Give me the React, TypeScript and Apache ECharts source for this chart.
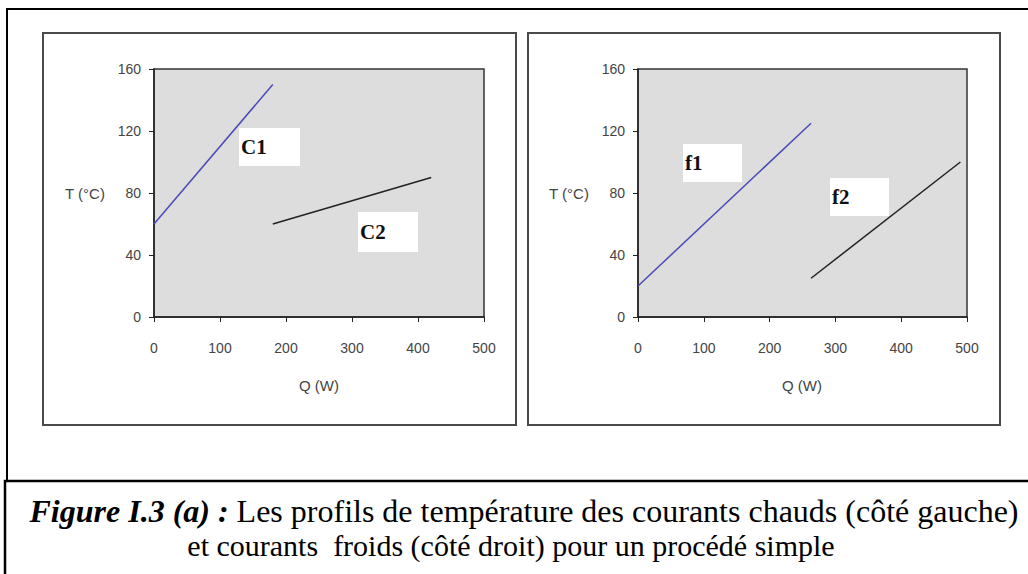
import React, { useEffect, useRef } from "react";
import * as echarts from "echarts";

// Hot streams (left chart)
const c1Q = [0, 180];
const c1T = [60, 150];
const c2Q = [180, 420];
const c2T = [60, 90];
// Cold streams (right chart)
const f1Q = [0, 263];
const f1T = [20, 125];
const f2Q = [263, 490];
const f2T = [25, 100];

const xTicks = [0, 100, 200, 300, 400, 500];
const yTicks = [0, 40, 80, 120, 160];
const xName = "Q (W)";
const yName = "T (°C)";
const caption1Bold = "Figure I.3 (a) :";
const caption1Rest = " Les profils de température des courants chauds (côté gauche)";
const caption2 = "et courants  froids (côté droit) pour un procédé simple";

const pairs = (q: number[], t: number[]) => q.map((v, i) => [v, t[i]]);

export default function App() {
  const ref = useRef<HTMLDivElement>(null);
  useEffect(() => {
    document.body.style.margin = "0";
    const chart = echarts.init(ref.current!, undefined, { renderer: "svg" });
    const axisFont = { fontFamily: "Liberation Sans", fontSize: 14, color: "#444" };
    const mkX = (gi: number) => ({
      type: "value",
      gridIndex: gi,
      min: xTicks[0],
      max: xTicks[xTicks.length - 1],
      interval: 100,
      axisLine: { show: true, onZero: false, lineStyle: { color: "#222", width: 1.5 } },
      axisTick: { show: true, length: 5, lineStyle: { color: "#222" } },
      axisLabel: { ...axisFont, margin: 24 },
      splitLine: { show: false },
    });
    const mkY = (gi: number) => ({
      type: "value",
      gridIndex: gi,
      min: yTicks[0],
      max: yTicks[yTicks.length - 1],
      interval: 40,
      axisLine: { show: true, onZero: false, lineStyle: { color: "#222", width: 1.5 } },
      axisTick: { show: true, length: 5, lineStyle: { color: "#222" } },
      axisLabel: { ...axisFont, margin: 13 },
      splitLine: { show: false },
    });
    const lineSeries = (gi: number, name: string, data: number[][], color: string) => ({
      type: "line",
      name,
      xAxisIndex: gi,
      yAxisIndex: gi,
      data,
      symbol: "none",
      lineStyle: { color, width: 1.5 },
    });
    const labelBox = (x: number, y: number, w: number, h: number, txt: string) => ({
      type: "group",
      children: [
        { type: "rect", shape: { x, y, width: w, height: h }, style: { fill: "#fff" } },
        {
          type: "text",
          x: x + 2,
          y: y + h / 2,
          style: {
            text: txt,
            fill: "#111",
            font: "bold 21px 'Liberation Serif'",
            textVerticalAlign: "middle",
          },
        },
      ],
    });
    const axText = (x: number, y: number, txt: string) => ({
      type: "text",
      x,
      y,
      style: {
        text: txt,
        fill: "#444",
        font: "15px 'Liberation Sans'",
        textAlign: "center",
        textVerticalAlign: "middle",
      },
    });
    chart.setOption({
      animation: false,
      backgroundColor: "#fff",
      grid: [
        { left: 154, top: 69, width: 330, height: 248, show: true, backgroundColor: "#dddddd", borderColor: "#333", borderWidth: 1.5 },
        { left: 638, top: 69, width: 329, height: 248, show: true, backgroundColor: "#dddddd", borderColor: "#333", borderWidth: 1.5 },
      ],
      xAxis: [mkX(0), mkX(1)],
      yAxis: [mkY(0), mkY(1)],
      series: [
        lineSeries(0, "C1", pairs(c1Q, c1T), "#4a4ab8"),
        lineSeries(0, "C2", pairs(c2Q, c2T), "#222"),
        lineSeries(1, "f1", pairs(f1Q, f1T), "#4a4ab8"),
        lineSeries(1, "f2", pairs(f2Q, f2T), "#222"),
      ],
      graphic: [
        { type: "rect", shape: { x: 7, y: 9, width: 1040, height: 472 }, style: { fill: "none", stroke: "#000", lineWidth: 2 } },
        { type: "rect", shape: { x: 5, y: 481, width: 1040, height: 120 }, style: { fill: "none", stroke: "#000", lineWidth: 2.5 } },
        { type: "rect", shape: { x: 43, y: 33, width: 473, height: 392 }, style: { fill: "none", stroke: "#4a4a4a", lineWidth: 2 } },
        { type: "rect", shape: { x: 528, y: 33, width: 472, height: 392 }, style: { fill: "none", stroke: "#4a4a4a", lineWidth: 2 } },
        labelBox(239, 128, 61, 38, "C1"),
        labelBox(358, 212, 60, 40, "C2"),
        labelBox(683, 144, 59, 38, "f1"),
        labelBox(830, 178, 59, 38, "f2"),
        axText(85, 193, yName),
        axText(569, 193, yName),
        axText(319, 385, xName),
        axText(802, 385, xName),
        {
          type: "text",
          x: 524,
          y: 511,
          style: {
            text: "{b|" + caption1Bold + "}{r|" + caption1Rest + "}",
            textAlign: "center",
            textVerticalAlign: "middle",
            rich: {
              b: { font: "italic bold 32px 'Liberation Serif'", fill: "#000" },
              r: { font: "32px 'Liberation Serif'", fill: "#000" },
            },
          },
        },
        {
          type: "text",
          x: 511,
          y: 545,
          style: {
            text: caption2,
            textAlign: "center",
            textVerticalAlign: "middle",
            font: "30px 'Liberation Serif'",
            fill: "#000",
          },
        },
      ],
    });
    return () => chart.dispose();
  }, []);
  return <div ref={ref} style={{ width: 1028, height: 574 }} />;
}
